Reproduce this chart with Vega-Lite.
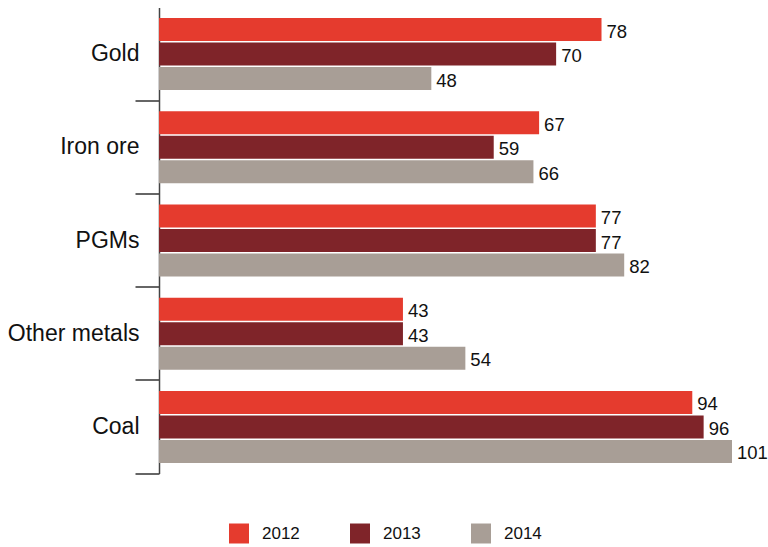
{
  "$schema": "https://vega.github.io/schema/vega-lite/v6.json",
  "width": 573,
  "height": 466,
  "autosize": {"type": "none"},
  "padding": {"left": 159, "top": 7.5, "right": 36, "bottom": 73.5},
  "config": {"font": "Liberation Sans", "view": {"stroke": null}},
  "data": {
    "values": [
      {"category": "Gold", "year": "2012", "value": 78},
      {"category": "Gold", "year": "2013", "value": 70},
      {"category": "Gold", "year": "2014", "value": 48},
      {"category": "Iron ore", "year": "2012", "value": 67},
      {"category": "Iron ore", "year": "2013", "value": 59},
      {"category": "Iron ore", "year": "2014", "value": 66},
      {"category": "PGMs", "year": "2012", "value": 77},
      {"category": "PGMs", "year": "2013", "value": 77},
      {"category": "PGMs", "year": "2014", "value": 82},
      {"category": "Other metals", "year": "2012", "value": 43},
      {"category": "Other metals", "year": "2013", "value": 43},
      {"category": "Other metals", "year": "2014", "value": 54},
      {"category": "Coal", "year": "2012", "value": 94},
      {"category": "Coal", "year": "2013", "value": 96},
      {"category": "Coal", "year": "2014", "value": 101}
    ]
  },
  "encoding": {
    "y": {
      "field": "category",
      "type": "nominal",
      "sort": ["Gold", "Iron ore", "PGMs", "Other metals", "Coal"],
      "scale": {"paddingInner": 0, "paddingOuter": 0},
      "axis": {
        "title": null,
        "orient": "left",
        "bandPosition": 1,
        "tickSize": 24,
        "tickWidth": 1.5,
        "tickColor": "#333333",
        "domainColor": "#444444",
        "domainWidth": 1.5,
        "labelPadding": -4,
        "labelFontSize": 23,
        "labelColor": "#111111",
        "labelFont": "Liberation Sans",
        "grid": false
      }
    },
    "yOffset": {
      "field": "year",
      "type": "nominal",
      "scale": {"paddingInner": 0.061, "paddingOuter": 0.4326}
    },
    "x": {
      "field": "value",
      "type": "quantitative",
      "scale": {"domain": [0, 101], "nice": false, "zero": true},
      "axis": null
    }
  },
  "layer": [
    {
      "mark": {"type": "bar"},
      "encoding": {
        "color": {
          "field": "year",
          "type": "nominal",
          "scale": {"domain": ["2012", "2013", "2014"], "range": ["#E53B2E", "#7F2429", "#A89E96"]},
          "legend": {
            "title": null,
            "orient": "none",
            "direction": "horizontal",
            "legendX": 70,
            "legendY": 516,
            "symbolType": "square",
            "symbolSize": 400,
            "symbolStrokeWidth": 0,
            "symbolOpacity": 1,
            "labelOffset": 13,
            "labelFontSize": 17,
            "labelColor": "#111111",
            "labelFont": "Liberation Sans",
            "columnPadding": 50,
            "padding": 0
          }
        }
      }
    },
    {
      "mark": {"type": "text", "align": "left", "baseline": "middle", "dx": 5, "dy": 2, "fontSize": 18.5, "color": "#111111"},
      "encoding": {
        "text": {"field": "value", "type": "quantitative"}
      }
    }
  ]
}
